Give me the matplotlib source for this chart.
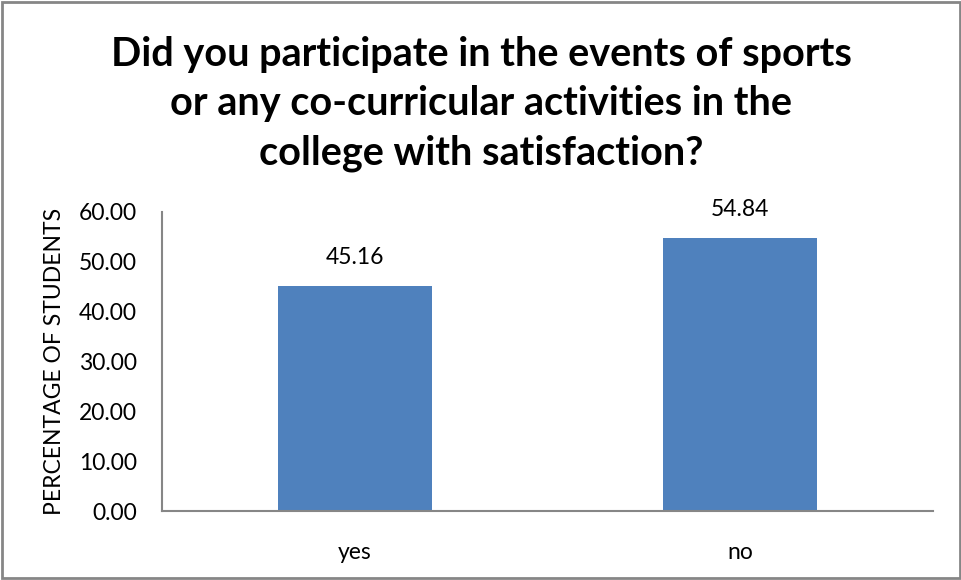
import matplotlib
matplotlib.use("Agg")
import matplotlib.pyplot as plt
from matplotlib.patches import Rectangle

categories = ["yes", "no"]
values = [45.16, 54.84]
yticks = [0, 10, 20, 30, 40, 50, 60]
title = "Did you participate in the events of sports\nor any co-curricular activities in the\ncollege with satisfaction?"
ylabel = "PERCENTAGE OF STUDENTS"

plt.rcParams['font.family'] = ['Lato', 'DejaVu Sans']
FS = 16.5

fig = plt.figure(figsize=(9.62, 5.8), dpi=100)
ax = fig.add_axes([162/962, 1-511/580, (933-162)/962, (511-212)/580])

x = list(range(len(categories)))
bars = ax.bar(x, values, width=0.4, color="#4F81BD")
ax.set_xlim(-0.5, 1.5)
ax.set_ylim(0, 60)
ax.set_yticks(yticks)
ax.set_yticklabels([f"{v:.2f}" for v in yticks], fontsize=FS)
ax.set_xticks(x)
ax.set_xticklabels(categories, fontsize=FS)
ax.tick_params(axis='y', length=0, pad=18)
ax.tick_params(axis='x', length=0, pad=22)
for s in ["top", "right"]:
    ax.spines[s].set_visible(False)
for s in ["left", "bottom"]:
    ax.spines[s].set_color("#868686")
    ax.spines[s].set_linewidth(1.5)
ax.set_ylabel(ylabel, fontsize=FS, labelpad=10)
for xi, v in zip(x, values):
    ax.annotate(f"{v:.2f}", (xi, v), xytext=(0, 13), textcoords="offset points",
                ha="center", va="bottom", fontsize=FS)

fig.text(481/962, 1-104/580, title, ha="center", va="center", fontsize=28.5,
         fontweight="bold", linespacing=1.4)

fig.patches.append(Rectangle((0.002, 0.003), 0.996, 0.994, transform=fig.transFigure,
                             fill=False, edgecolor="#868686", linewidth=2))
fig.savefig("out.png", dpi=100)
